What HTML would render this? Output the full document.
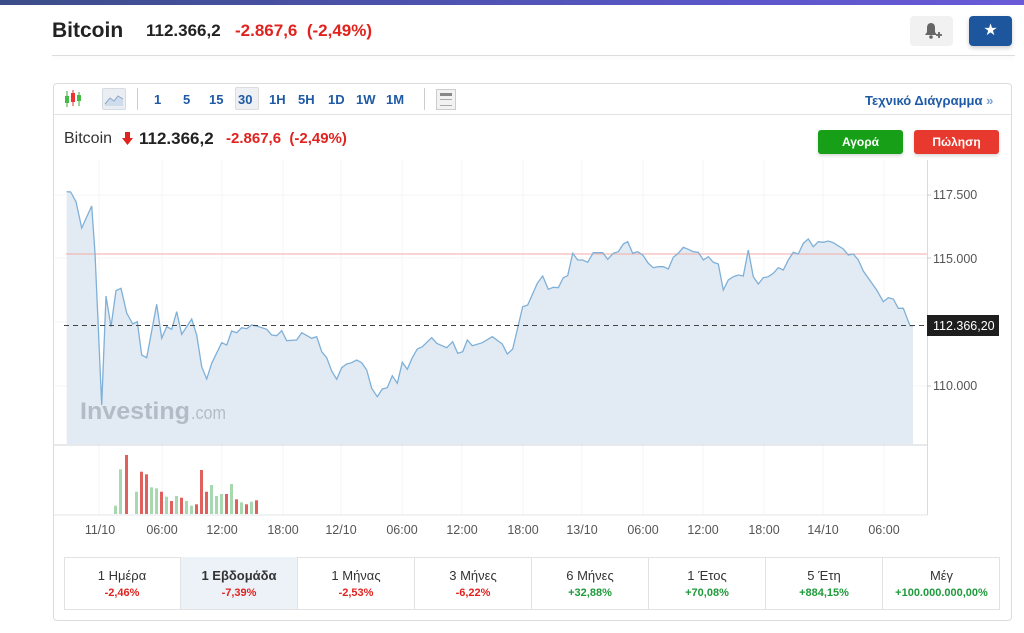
<!DOCTYPE html>
<html><head><meta charset="utf-8"><style>
*{margin:0;padding:0;box-sizing:border-box}
body{width:1024px;height:633px;background:#fff;font-family:"Liberation Sans",sans-serif;position:relative;overflow:hidden;color:#222}
.a{position:absolute;white-space:nowrap}
.topbar{left:0;top:0;width:1024px;height:5px;background:linear-gradient(90deg,#3b4d88,#5a56c8 70%,#6a5ad8)}
.red{color:#e0231f}
.tb{font-size:13px;font-weight:bold;color:#1f5aa6;top:92px}
.card{left:53px;top:83px;width:959px;height:538px;border:1px solid #dcdcdc;border-radius:4px}
.cell{position:absolute;top:557px;height:52px;width:117px;border-right:1px solid #e2e2e2;text-align:center}
.cell .l{font-size:13px;color:#333;margin-top:11px}
.cell .p{font-size:11px;font-weight:bold;margin-top:4px}
.g{color:#1e9a3a}
</style></head><body>
<div class="a topbar"></div>
<div class="a" style="left:52px;top:19px;font-size:21px;font-weight:bold;color:#222">Bitcoin</div>
<div class="a" style="left:146px;top:21px;font-size:17px;color:#222;font-weight:bold">112.366,2</div>
<div class="a red" style="left:235px;top:21px;font-size:17px;font-weight:bold">-2.867,6&nbsp; (-2,49%)</div>
<div class="a" style="left:52px;top:55px;width:963px;height:1px;background:#ddd;box-shadow:0 2px 3px rgba(0,0,0,.08)"></div>
<div class="a" style="left:910px;top:16px;width:43px;height:30px;background:#f1f1f1;border-radius:4px"></div>
<svg class="a" style="left:922px;top:21px" width="20" height="20"><path d="M3 14 L5 11 L5 7 Q5 2 9 2 Q13 2 13 7 L13 11 L15 14Z" fill="#666"/><circle cx="9" cy="16" r="1.8" fill="#666"/><path d="M14 14 h6 M17 11 v6" stroke="#666" stroke-width="1.8"/></svg>
<div class="a" style="left:969px;top:16px;width:43px;height:30px;background:#1d569c;border-radius:4px;color:#fff;font-size:16px;text-align:center;line-height:30px;box-shadow:0 2px 5px rgba(0,0,0,.2)">★</div>

<div class="a card"></div>
<div class="a" style="left:54px;top:114px;width:957px;height:1px;background:#e2e2e2"></div>
<svg class="a" style="left:62px;top:88px" width="22" height="22"><line x1="5" y1="3" x2="5" y2="19" stroke="#3a3" /><rect x="3" y="8" width="4" height="7" fill="#4b4"/><line x1="11" y1="2" x2="11" y2="18" stroke="#d33"/><rect x="9" y="5" width="4" height="9" fill="#e33"/><line x1="17" y1="4" x2="17" y2="18" stroke="#3a3"/><rect x="15" y="7" width="4" height="6" fill="#4b4"/></svg>
<div class="a" style="left:102px;top:88px;width:24px;height:22px;background:#eaeef3;border:1px solid #d5dbe3;border-radius:2px"></div>
<svg class="a" style="left:104px;top:92px" width="20" height="14"><path d="M1 12 L6 6 L10 9 L14 4 L19 7 L19 14 L1 14Z" fill="#cfdcec"/><path d="M1 12 L6 6 L10 9 L14 4 L19 7" stroke="#8aa7cc" fill="none"/></svg>
<div class="a" style="left:137px;top:88px;width:1px;height:22px;background:#ccc"></div>
<div class="a tb" style="left:154px">1</div>
<div class="a tb" style="left:183px">5</div>
<div class="a tb" style="left:209px">15</div>
<div class="a" style="left:235px;top:87px;width:24px;height:23px;background:#eef0f3;border:1px solid #dcdcdc;border-radius:2px"></div>
<div class="a tb" style="left:238px">30</div>
<div class="a tb" style="left:269px">1H</div>
<div class="a tb" style="left:298px">5H</div>
<div class="a tb" style="left:328px">1D</div>
<div class="a tb" style="left:356px">1W</div>
<div class="a tb" style="left:386px">1M</div>
<div class="a" style="left:424px;top:88px;width:1px;height:22px;background:#ccc"></div>
<div class="a" style="left:436px;top:89px;width:20px;height:21px;background:#f2f2f2;border:1px solid #ccc"></div>
<div class="a" style="left:440px;top:93px;width:12px;height:3px;background:#888"></div>
<div class="a" style="left:440px;top:99px;width:12px;height:7px;border-top:1px solid #aaa;border-bottom:1px solid #aaa"></div>
<div class="a" style="left:865px;top:93px;font-size:13px;font-weight:bold;color:#1f5aa6;font-family:'Liberation Sans','DejaVu Sans',sans-serif">Τεχνικό Διάγραμμα <span style="color:#7a9fd0">»</span></div>

<div class="a" style="left:64px;top:130px;font-size:16px;color:#333">Bitcoin</div>
<svg class="a" style="left:122px;top:132px" width="11" height="14"><rect x="3" y="0" width="5" height="6" fill="#e0231f"/><path d="M0 6 L11 6 L5.5 13Z" fill="#e0231f"/></svg>
<div class="a" style="left:139px;top:129px;font-size:17px;font-weight:bold;color:#222">112.366,2</div>
<div class="a red" style="left:226px;top:130px;font-size:15px;font-weight:bold">-2.867,6&nbsp; (-2,49%)</div>
<div class="a" style="left:818px;top:130px;width:85px;height:24px;background:#17a017;border-radius:3px;color:#fff;font-size:12px;font-weight:bold;text-align:center;line-height:24px;box-shadow:0 2px 3px rgba(0,0,0,.15)">Αγορά</div>
<div class="a" style="left:914px;top:130px;width:85px;height:24px;background:#e8392f;border-radius:3px;color:#fff;font-size:12px;font-weight:bold;text-align:center;line-height:24px;box-shadow:0 2px 3px rgba(0,0,0,.15)">Πώληση</div>

<svg class="a" style="left:0;top:0" width="1024" height="633">
<g stroke="#f4f5f7" stroke-width="1">
<line x1="99" y1="160" x2="99" y2="515"/><line x1="162" y1="160" x2="162" y2="515"/><line x1="222" y1="160" x2="222" y2="515"/><line x1="283" y1="160" x2="283" y2="515"/><line x1="341" y1="160" x2="341" y2="515"/><line x1="402" y1="160" x2="402" y2="515"/><line x1="462" y1="160" x2="462" y2="515"/><line x1="523" y1="160" x2="523" y2="515"/><line x1="582" y1="160" x2="582" y2="515"/><line x1="643" y1="160" x2="643" y2="515"/><line x1="703" y1="160" x2="703" y2="515"/><line x1="764" y1="160" x2="764" y2="515"/><line x1="823" y1="160" x2="823" y2="515"/><line x1="884" y1="160" x2="884" y2="515"/>
<line x1="54" y1="195" x2="927" y2="195"/><line x1="54" y1="258" x2="927" y2="258"/><line x1="54" y1="322" x2="927" y2="322"/><line x1="54" y1="386" x2="927" y2="386"/>
</g>
<path fill="#e2ebf3" stroke="none" d="M66.7 444 L66.7 191.7 L70.7 192 L76 201.7 L81.7 228 L91.7 206 L95 253 L101.7 405 L106 296 L111 326.7 L116 290.7 L121 288.3 L126.7 313 L132.7 324 L137.3 321.7 L141.7 355 L146.7 357.7 L156.7 304.3 L161.7 338.3 L166.7 326.7 L171.7 329.3 L176.7 311.7 L181.7 334.3 L191.7 319 L196.7 335 L201.7 366.7 L206.7 379 L211.7 363.3 L221.7 342.7 L226.7 345 L231.7 331 L236.7 332.7 L241.7 327.7 L246.7 328.7 L251.7 325 L256.7 326 L266.7 329.3 L271.7 335 L276.7 335.7 L281.7 330.7 L286.7 340.7 L296.7 340 L301.7 332.7 L311.7 338.3 L316.7 336.7 L321.7 351.7 L326.7 357.7 L331.7 371 L336.7 379.3 L341.7 367.7 L346.7 364 L351.7 362.7 L356.7 360 L361.7 362.7 L366.7 370 L371.7 388.3 L377.3 396.7 L382.3 389 L387.3 387.7 L392.3 375.7 L397.3 383.3 L402.3 362.3 L407.3 369.3 L412.3 357.7 L417.3 349 L422.3 346.7 L431.7 337.7 L436.7 343.3 L446.7 347.7 L452.7 341.7 L457.7 353.3 L462.7 351.7 L467.3 340 L472.3 345.7 L482.3 342.7 L492.3 336.7 L502.3 344 L507.3 354 L512.7 349 L522.7 306.7 L527.7 305 L537.3 283.3 L542.7 276 L548.3 289.3 L553.3 287.3 L558.3 287.7 L563.3 277.7 L567.7 275.7 L572.7 253.3 L577.7 260 L582.7 260 L587.7 262.3 L593.3 252.7 L602.7 252.7 L607.7 259.3 L613.3 253.3 L618.3 251.7 L623.3 244 L627.7 241.7 L632.7 253.3 L637.7 251.7 L642.7 255 L648.3 263.3 L653.3 267.7 L658.3 266.7 L663.3 266.7 L668.3 269 L673.3 257.3 L678.3 253.3 L683.3 247.3 L688.3 249.3 L693.3 251.7 L698.3 252.3 L703.3 260 L708.3 256.7 L713.3 262.3 L718.3 264 L723.3 290 L728.3 280 L733.3 276.7 L738.3 275 L743.3 276 L748.3 250 L753.3 276.7 L758.3 284 L763.3 277.7 L768.3 276.7 L773.3 273.3 L778.3 267.7 L783.3 270 L788.3 260 L793.3 252.3 L798.3 254 L803.3 243.3 L808.3 239 L813.3 246.7 L818.3 241.7 L823.3 242.3 L828.3 241 L833.3 242.7 L843.3 249 L848.3 255 L853.3 254 L858.3 260 L863.3 271 L876.7 290 L883.3 301.7 L888.3 297.7 L893.3 299 L898.3 308.3 L903.3 308.3 L910 325.7 L913 325.7 L913 444 Z"/>
<line x1="66" y1="254" x2="927" y2="254" stroke="#f4a8a4" stroke-width="1"/>
<path fill="none" stroke="#7fb0d8" stroke-width="1.3" d="M66.7 191.7 L70.7 192 L76 201.7 L81.7 228 L91.7 206 L95 253 L101.7 405 L106 296 L111 326.7 L116 290.7 L121 288.3 L126.7 313 L132.7 324 L137.3 321.7 L141.7 355 L146.7 357.7 L156.7 304.3 L161.7 338.3 L166.7 326.7 L171.7 329.3 L176.7 311.7 L181.7 334.3 L191.7 319 L196.7 335 L201.7 366.7 L206.7 379 L211.7 363.3 L221.7 342.7 L226.7 345 L231.7 331 L236.7 332.7 L241.7 327.7 L246.7 328.7 L251.7 325 L256.7 326 L266.7 329.3 L271.7 335 L276.7 335.7 L281.7 330.7 L286.7 340.7 L296.7 340 L301.7 332.7 L311.7 338.3 L316.7 336.7 L321.7 351.7 L326.7 357.7 L331.7 371 L336.7 379.3 L341.7 367.7 L346.7 364 L351.7 362.7 L356.7 360 L361.7 362.7 L366.7 370 L371.7 388.3 L377.3 396.7 L382.3 389 L387.3 387.7 L392.3 375.7 L397.3 383.3 L402.3 362.3 L407.3 369.3 L412.3 357.7 L417.3 349 L422.3 346.7 L431.7 337.7 L436.7 343.3 L446.7 347.7 L452.7 341.7 L457.7 353.3 L462.7 351.7 L467.3 340 L472.3 345.7 L482.3 342.7 L492.3 336.7 L502.3 344 L507.3 354 L512.7 349 L522.7 306.7 L527.7 305 L537.3 283.3 L542.7 276 L548.3 289.3 L553.3 287.3 L558.3 287.7 L563.3 277.7 L567.7 275.7 L572.7 253.3 L577.7 260 L582.7 260 L587.7 262.3 L593.3 252.7 L602.7 252.7 L607.7 259.3 L613.3 253.3 L618.3 251.7 L623.3 244 L627.7 241.7 L632.7 253.3 L637.7 251.7 L642.7 255 L648.3 263.3 L653.3 267.7 L658.3 266.7 L663.3 266.7 L668.3 269 L673.3 257.3 L678.3 253.3 L683.3 247.3 L688.3 249.3 L693.3 251.7 L698.3 252.3 L703.3 260 L708.3 256.7 L713.3 262.3 L718.3 264 L723.3 290 L728.3 280 L733.3 276.7 L738.3 275 L743.3 276 L748.3 250 L753.3 276.7 L758.3 284 L763.3 277.7 L768.3 276.7 L773.3 273.3 L778.3 267.7 L783.3 270 L788.3 260 L793.3 252.3 L798.3 254 L803.3 243.3 L808.3 239 L813.3 246.7 L818.3 241.7 L823.3 242.3 L828.3 241 L833.3 242.7 L843.3 249 L848.3 255 L853.3 254 L858.3 260 L863.3 271 L876.7 290 L883.3 301.7 L888.3 297.7 L893.3 299 L898.3 308.3 L903.3 308.3 L910 325.7 L913 325.7"/>
<line x1="64" y1="325.5" x2="927" y2="325.5" stroke="#444" stroke-width="1" stroke-dasharray="5,4"/>
<line x1="54" y1="445" x2="927" y2="445" stroke="#cfd3d8"/>
<line x1="54" y1="515" x2="927" y2="515" stroke="#e3e5e8"/>
<line x1="927.5" y1="160" x2="927.5" y2="515" stroke="#d8dbe0"/>
<g stroke="#ccc"><line x1="927" y1="195" x2="931" y2="195"/><line x1="927" y1="258" x2="931" y2="258"/><line x1="927" y1="386" x2="931" y2="386"/></g>
<text x="80" y="419" font-family="Liberation Sans" font-size="24" font-weight="bold" fill="#b3bcc6" textLength="110" lengthAdjust="spacingAndGlyphs">Investing</text>
<text x="191" y="419" font-family="Liberation Sans" font-size="18" fill="#b3bcc6" textLength="35" lengthAdjust="spacingAndGlyphs">.com</text>
<g fill="#a8d8b0">
<rect x="114" y="505.7" width="3" height="8.3"/><rect x="119" y="469.3" width="3" height="44.7"/><rect x="135" y="491.7" width="3" height="22.3"/><rect x="150" y="487.3" width="3" height="26.7"/><rect x="155" y="488.3" width="3" height="25.7"/><rect x="165" y="496.7" width="3" height="17.3"/><rect x="175" y="496" width="3" height="18"/><rect x="185" y="501" width="3" height="13"/><rect x="190" y="505.7" width="3" height="8.3"/><rect x="210" y="485" width="3" height="29"/><rect x="215" y="496" width="3" height="18"/><rect x="220" y="494" width="3" height="20"/><rect x="230" y="484" width="3" height="30"/><rect x="240" y="502.3" width="3" height="11.7"/><rect x="250" y="501.7" width="3" height="12.3"/>
</g>
<g fill="#e0605d">
<rect x="125" y="455" width="3" height="59"/><rect x="140" y="471.7" width="3" height="42.3"/><rect x="145" y="474.3" width="3" height="39.7"/><rect x="160" y="491.7" width="3" height="22.3"/><rect x="170" y="501" width="3" height="13"/><rect x="180" y="497.7" width="3" height="16.3"/><rect x="195" y="504.3" width="3" height="9.7"/><rect x="200" y="470" width="3" height="44"/><rect x="205" y="491.7" width="3" height="22.3"/><rect x="225" y="494" width="3" height="20"/><rect x="235" y="499.3" width="3" height="14.7"/><rect x="245" y="504.3" width="3" height="9.7"/><rect x="255" y="500.3" width="3" height="13.7"/>
</g>
<g font-family="Liberation Sans" font-size="12.5" fill="#555">
<text x="933" y="199">117.500</text><text x="933" y="263">115.000</text><text x="933" y="390">110.000</text>
</g>
<rect x="927" y="315" width="72" height="21" fill="#1e1e1e"/>
<text x="933" y="330" font-family="Liberation Sans" font-size="12.5" fill="#fff">112.366,20</text>
<g font-family="Liberation Sans" font-size="12.5" fill="#555" text-anchor="middle">
<text x="100" y="534">11/10</text><text x="162" y="534">06:00</text><text x="222" y="534">12:00</text><text x="283" y="534">18:00</text><text x="341" y="534">12/10</text><text x="402" y="534">06:00</text><text x="462" y="534">12:00</text><text x="523" y="534">18:00</text><text x="582" y="534">13/10</text><text x="643" y="534">06:00</text><text x="703" y="534">12:00</text><text x="764" y="534">18:00</text><text x="823" y="534">14/10</text><text x="884" y="534">06:00</text>
</g>
</svg>

<div class="a" style="left:64px;top:557px;width:936px;height:53px;border:1px solid #e2e2e2"></div>
<div class="cell" style="left:64px"><div class="l">1 Ημέρα</div><div class="p red">-2,46%</div></div>
<div class="cell" style="left:181px;background:#edf2f8"><div class="l" style="font-weight:bold">1 Εβδομάδα</div><div class="p red">-7,39%</div></div>
<div class="cell" style="left:298px"><div class="l">1 Μήνας</div><div class="p red">-2,53%</div></div>
<div class="cell" style="left:415px"><div class="l">3 Μήνες</div><div class="p red">-6,22%</div></div>
<div class="cell" style="left:532px"><div class="l">6 Μήνες</div><div class="p g">+32,88%</div></div>
<div class="cell" style="left:649px"><div class="l">1 Έτος</div><div class="p g">+70,08%</div></div>
<div class="cell" style="left:766px"><div class="l">5 Έτη</div><div class="p g">+884,15%</div></div>
<div class="cell" style="left:883px;border-right:none"><div class="l">Μέγ</div><div class="p g">+100.000.000,00%</div></div>
</body></html>
